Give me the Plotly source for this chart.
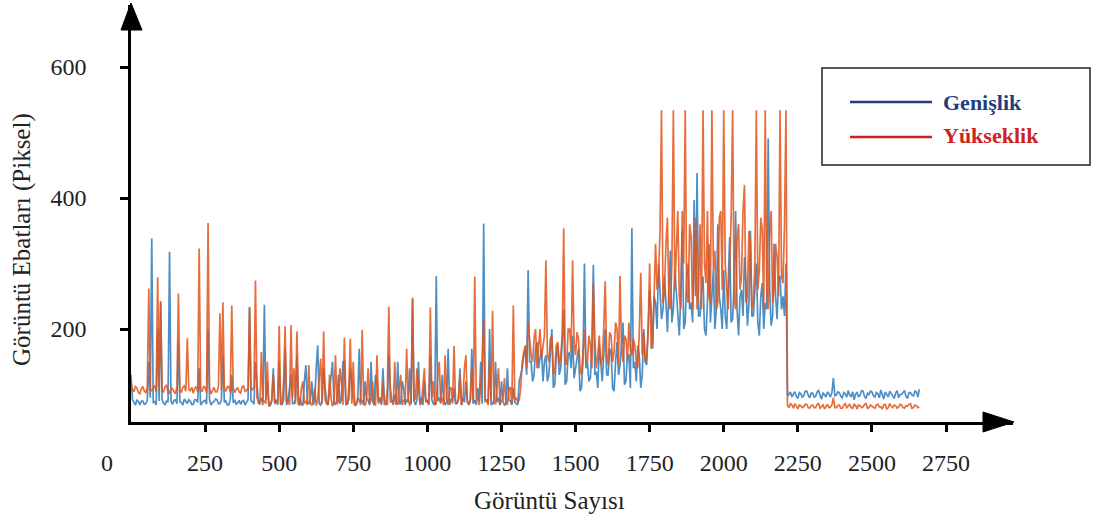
import plotly.graph_objects as go

# Genişlik (width) values, one sample every 5 images
genislik = [
    130, 92, 88, 84, 92, 89, 84, 90, 90, 85, 86, 91, 150, 95, 338, 88, 89, 84, 200, 90,
    240, 92, 87, 84, 91, 88, 318, 90, 85, 91, 92, 86, 180, 89, 88, 84, 93, 90, 86, 92,
    90, 85, 85, 92, 92, 88, 140, 84, 87, 90, 91, 85, 200, 92, 84, 88, 89, 93, 92, 86,
    86, 91, 160, 88, 90, 84, 84, 92, 130, 87, 92, 85, 87, 91, 85, 90, 91, 84, 88, 92,
    234, 90, 89, 85, 150, 120, 86, 90, 95, 84, 237, 92, 120, 86, 84, 90, 140, 88, 90, 84,
    150, 86, 85, 92, 170, 84, 92, 110, 130, 86, 86, 92, 160, 84, 95, 86, 83, 120, 145, 88,
    86, 92, 120, 84, 92, 140, 175, 86, 84, 92, 140, 110, 90, 84, 110, 130, 150, 86, 85, 92,
    130, 86, 92, 150, 150, 84, 86, 92, 140, 120, 95, 84, 84, 90, 170, 88, 90, 84, 120, 92,
    92, 84, 150, 90, 84, 130, 120, 86, 95, 84, 140, 92, 86, 84, 160, 110, 92, 86, 100, 84,
    150, 86, 86, 120, 110, 84, 92, 88, 140, 86, 245, 90, 84, 92, 150, 86, 95, 84, 120, 90,
    90, 84, 160, 92, 86, 84, 281, 90, 95, 86, 130, 92, 84, 88, 170, 84, 92, 90, 110, 86,
    86, 92, 140, 84, 95, 88, 120, 90, 84, 92, 170, 86, 92, 84, 110, 90, 150, 86, 361, 92,
    92, 86, 200, 84, 86, 92, 150, 88, 95, 84, 120, 90, 84, 86, 140, 92, 90, 84, 110, 88,
    86, 84, 120, 130, 140, 160, 170, 130, 290, 150, 150, 120, 130, 170, 180, 140, 155, 170, 120, 150,
    160, 120, 130, 170, 200, 110, 115, 160, 175, 130, 140, 180, 230, 115, 120, 160, 165, 140, 190, 125,
    140, 160, 170, 105, 110, 150, 300, 140, 150, 120, 125, 170, 298, 130, 135, 110, 175, 150, 120, 160,
    200, 130, 130, 170, 165, 110, 105, 150, 180, 130, 145, 175, 210, 115, 120, 160, 160, 110, 354, 140,
    150, 120, 175, 160, 110, 130, 200, 150, 145, 200, 260, 230, 170, 250, 240, 200, 300, 260, 215, 230,
    280, 240, 195, 260, 320, 210, 230, 290, 260, 220, 190, 250, 350, 200, 210, 280, 300, 230, 240, 210,
    397, 250, 438, 220, 220, 260, 280, 200, 190, 240, 330, 210, 250, 290, 200, 230, 360, 250, 230, 200,
    290, 220, 200, 260, 340, 210, 215, 270, 380, 230, 190, 250, 260, 220, 310, 270, 205, 240, 350, 220,
    220, 260, 300, 210, 190, 250, 270, 200, 240, 230, 491, 260, 205, 220, 330, 250, 215, 280, 280, 230,
    250, 220, 300, 98, 100, 104, 96, 101, 104, 97, 94, 103, 101, 96, 98, 105, 105, 99, 95, 102,
    102, 96, 97, 104, 106, 99, 93, 102, 100, 96, 104, 101, 96, 103, 125, 98, 99, 104, 103, 97,
    95, 103, 101, 96, 106, 99, 97, 104, 92, 101, 103, 96, 99, 106, 105, 97, 94, 102, 100, 105,
    104, 98, 96, 103, 101, 95, 107, 100, 93, 104, 99, 96, 105, 101, 97, 94, 102, 106, 95, 100,
    100, 104, 106, 97, 94, 103, 103, 99, 98, 105, 104, 96, 108,
]

# Yükseklik (height) values, one sample every 5 images
yukseklik = [
    118, 108, 104, 112, 110, 103, 101, 109, 112, 105, 103, 111, 262, 107, 106, 110, 114, 104, 279, 109,
    243, 105, 104, 112, 114, 103, 102, 110, 109, 104, 101, 112, 254, 106, 103, 111, 113, 105, 186, 108,
    106, 111, 102, 109, 112, 104, 323, 108, 104, 113, 110, 103, 362, 110, 101, 106, 111, 104, 104, 112,
    224, 106, 241, 109, 105, 112, 112, 103, 236, 110, 103, 108, 110, 104, 102, 112, 113, 105, 106, 110,
    232, 108, 107, 112, 274, 95, 88, 84, 165, 90, 90, 86, 150, 82, 84, 92, 130, 85, 92, 88,
    205, 84, 86, 120, 204, 88, 92, 84, 206, 95, 140, 86, 196, 90, 83, 110, 120, 86, 90, 84,
    145, 86, 84, 92, 110, 83, 92, 130, 155, 86, 196, 92, 86, 84, 130, 95, 82, 88, 160, 85,
    90, 140, 120, 84, 187, 92, 84, 110, 185, 86, 150, 83, 86, 95, 92, 84, 199, 88, 83, 92,
    140, 85, 92, 120, 85, 84, 160, 90, 95, 86, 120, 84, 86, 110, 234, 88, 90, 84, 150, 86,
    85, 110, 130, 84, 92, 88, 170, 95, 84, 86, 248, 90, 95, 140, 110, 84, 86, 120, 140, 88,
    92, 86, 233, 95, 120, 84, 86, 130, 150, 88, 95, 84, 160, 92, 84, 110, 110, 86, 174, 90,
    86, 95, 130, 84, 92, 140, 160, 88, 85, 92, 140, 86, 280, 95, 95, 84, 120, 150, 214, 88,
    92, 84, 150, 90, 228, 86, 86, 120, 140, 84, 90, 95, 125, 88, 84, 110, 110, 86, 236, 92,
    95, 88, 92, 110, 150, 165, 175, 140, 210, 185, 160, 150, 185, 200, 140, 170, 200, 155, 170, 190,
    305, 160, 150, 185, 190, 130, 135, 175, 180, 145, 160, 190, 354, 150, 145, 200, 200, 165, 305, 180,
    160, 195, 185, 140, 130, 175, 200, 150, 150, 190, 175, 140, 270, 185, 140, 160, 190, 145, 155, 200,
    273, 160, 145, 195, 190, 150, 165, 210, 200, 145, 281, 175, 150, 190, 185, 150, 210, 170, 160, 185,
    175, 150, 140, 195, 286, 160, 195, 150, 155, 200, 300, 170, 180, 250, 330, 260, 280, 350, 534, 240,
    260, 330, 370, 240, 230, 300, 534, 260, 310, 380, 250, 230, 380, 300, 534, 250, 240, 360, 340, 230,
    290, 370, 230, 260, 360, 230, 534, 300, 270, 380, 250, 240, 534, 290, 320, 230, 240, 370, 380, 260,
    534, 300, 260, 230, 300, 370, 534, 250, 230, 340, 360, 260, 280, 380, 420, 240, 250, 350, 330, 230,
    240, 300, 534, 260, 290, 370, 350, 230, 534, 260, 230, 350, 380, 240, 260, 330, 310, 250, 534, 280,
    270, 360, 534, 84, 80, 86, 84, 79, 86, 82, 78, 84, 83, 80, 81, 85, 85, 80, 79, 83,
    84, 80, 80, 85, 86, 79, 82, 84, 78, 81, 85, 80, 81, 84, 95, 80, 80, 83, 84, 79,
    79, 84, 86, 80, 82, 85, 80, 79, 85, 83, 78, 84, 83, 80, 81, 85, 86, 79, 80, 84,
    82, 80, 79, 84, 85, 81, 81, 78, 84, 85, 78, 80, 86, 82, 80, 84, 83, 79, 81, 85,
    84, 80, 79, 83, 82, 85, 86, 79, 80, 84, 83, 80, 81,
]

# image index for each sample (Görüntü Sayısı)
x_idx = [5 * i for i in range(len(yukseklik))]

y_ticks = [200, 400, 600]
x_ticks = [250, 500, 750, 1000, 1250, 1500, 1750, 2000, 2250, 2500, 2750]
series_names = ["Genişlik", "Yükseklik"]

SERIF = "Liberation Serif, Times New Roman, serif"
W, H = 1097, 521
L, R, T, B = 131, 84, 5, 99
PW, PH = W - L - R, H - T - B

fig = go.Figure()
fig.add_trace(go.Scatter(x=x_idx[:len(genislik)], y=genislik, mode="lines", name=series_names[0],
                         line=dict(color="rgba(38,118,184,0.82)", width=1.7),
                         showlegend=False))
fig.add_trace(go.Scatter(x=x_idx, y=yukseklik, mode="lines", name=series_names[1],
                         line=dict(color="rgba(226,84,26,0.85)", width=1.7),
                         showlegend=False))

def px_x(p):
    return (p - L) / PW

def px_y(p):
    return 1 - (p - T) / PH

shapes = []
# arrow heads of the axes
shapes.append(dict(type="path", xref="paper", yref="paper",
                   path=f"M {px_x(121)} {px_y(30)} L {px_x(131)} {px_y(3)} L {px_x(142)} {px_y(30)} Z",
                   fillcolor="black", line=dict(color="black", width=1)))
shapes.append(dict(type="path", xref="paper", yref="paper",
                   path=f"M {px_x(983)} {px_y(412)} L {px_x(1014)} {px_y(422)} L {px_x(983)} {px_y(432)} Z",
                   fillcolor="black", line=dict(color="black", width=1)))
# legend box
shapes.append(dict(type="rect", xref="paper", yref="paper",
                   x0=px_x(822), x1=px_x(1090), y0=px_y(68), y1=px_y(165),
                   line=dict(color="#222", width=1.5), fillcolor="white", layer="above"))
shapes.append(dict(type="line", xref="paper", yref="paper",
                   x0=px_x(850), x1=px_x(932), y0=px_y(102), y1=px_y(102),
                   line=dict(color="#1f3f7f", width=2.5), layer="above"))
shapes.append(dict(type="line", xref="paper", yref="paper",
                   x0=px_x(850), x1=px_x(932), y0=px_y(137), y1=px_y(137),
                   line=dict(color="#cc2222", width=2.5), layer="above"))

annotations = [
    dict(text="<b>" + series_names[0] + "</b>", x=px_x(941), y=px_y(102), xref="paper", yref="paper",
         xanchor="left", yanchor="middle", showarrow=False,
         font=dict(family=SERIF, size=22, color="#1f3f7f")),
    dict(text="<b>" + series_names[1] + "</b>", x=px_x(941), y=px_y(135), xref="paper", yref="paper",
         xanchor="left", yanchor="middle", showarrow=False,
         font=dict(family=SERIF, size=22, color="#cc2222")),
    dict(text="0", x=px_x(107), y=px_y(463), xref="paper", yref="paper",
         xanchor="center", yanchor="middle", showarrow=False,
         font=dict(family=SERIF, size=24, color="#222")),
    dict(text="Görüntü Sayısı", x=px_x(549), y=px_y(500), xref="paper", yref="paper",
         xanchor="center", yanchor="middle", showarrow=False,
         font=dict(family=SERIF, size=25, color="#222")),
    dict(text="Görüntü Ebatları (Piksel)", x=px_x(22), y=px_y(240), xref="paper", yref="paper",
         xanchor="center", yanchor="middle", showarrow=False, textangle=-90,
         font=dict(family=SERIF, size=25, color="#222")),
]

fig.update_layout(
    width=W, height=H,
    margin=dict(l=L, r=R, t=T, b=B, autoexpand=False),
    paper_bgcolor="white", plot_bgcolor="white",
    showlegend=False,
    shapes=shapes, annotations=annotations,
    font=dict(family=SERIF, size=24, color="#222"),
    xaxis=dict(range=[0, 2976], showgrid=False, zeroline=False,
               showline=True, linecolor="black", linewidth=2.5,
               tickmode="array", tickvals=x_ticks, ticktext=[str(v) for v in x_ticks],
               ticks="outside", ticklen=7, tickwidth=2.5, tickcolor="black",
               ticklabelstandoff=10,
               tickfont=dict(family=SERIF, size=24, color="#222")),
    yaxis=dict(range=[58, 694.7], showgrid=False, zeroline=False,
               showline=True, linecolor="black", linewidth=2.5,
               tickmode="array", tickvals=y_ticks, ticktext=[str(v) for v in y_ticks],
               ticks="outside", ticklen=8, tickwidth=2.5, tickcolor="black",
               ticklabelstandoff=29,
               tickfont=dict(family=SERIF, size=24, color="#222")),
)

fig.write_html("out.html", config={"displayModeBar": False},
               post_script="document.body.style.margin='0';")
